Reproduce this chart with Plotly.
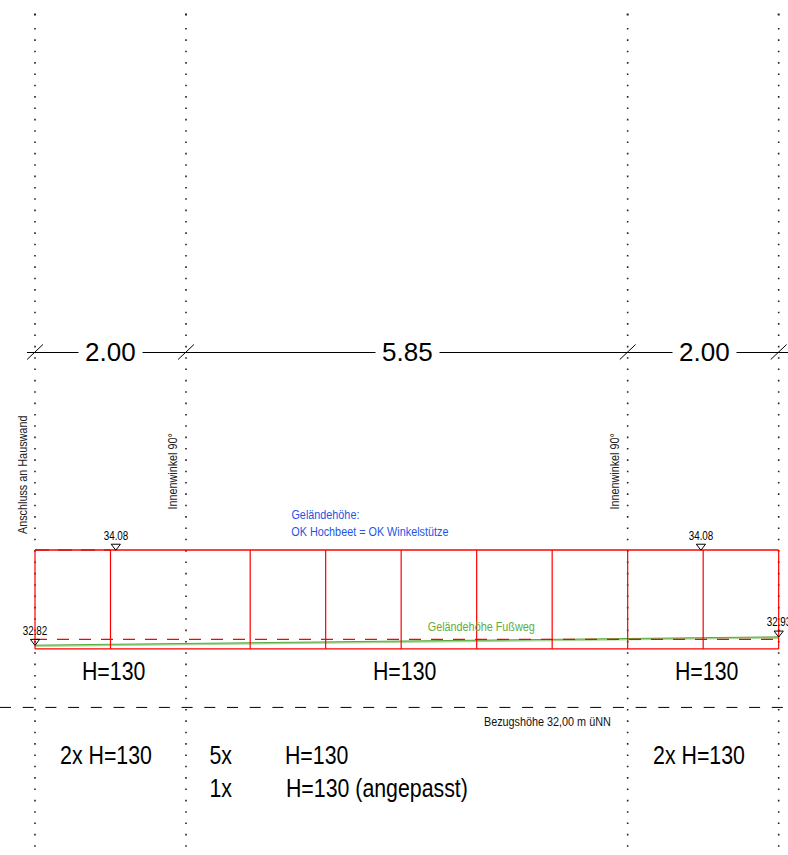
import plotly.graph_objects as go

# --- drawing values, metres and elevations (m uNN) ---
axis_positions = [0.0, 2.0, 7.85, 9.85]
span_labels = ["2.00", "5.85", "2.00"]
panel_edges = [0.0, 1.0, 2.85, 3.85, 4.85, 5.85, 6.85, 7.85, 8.85, 9.85]
top_level = 34.08
bottom_level = 32.77
dashed_level = 32.895
datum_level = 31.995
terrain_x = [0.0, 9.85]
terrain_y = [32.82, 32.93]
spot_x = [1.07, 8.82]
spot_y = [34.08, 34.08]
spot_labels = ["34.08", "34.08"]
H_LABEL = "H=130"
COUNT_LABEL = "2x H=130"

SCALE = 75.5
X0, Y0 = 35, 550
W, H = 788, 855
xr = [(0 - X0) / SCALE, (W - X0) / SCALE]
yr = [top_level - (H - Y0) / SCALE, top_level + Y0 / SCALE]
def px(v): return (v - X0) / SCALE
def py(v): return top_level - (v - Y0) / SCALE

FONT = "Liberation Sans, Arial, sans-serif"
RED = "#ff0000"
fig = go.Figure()

def line(xs, ys, color, width, dash="solid"):
    fig.add_trace(go.Scatter(x=xs, y=ys, mode="lines", hoverinfo="skip", showlegend=False,
                             line=dict(color=color, width=width, dash=dash)))

# dotted axis lines
for a in axis_positions:
    line([a, a], [py(28), py(848)], "#222222", 1.6, "1.6px,9.75px")
    fig.add_trace(go.Scatter(x=[a], y=[py(14.5)], mode="markers", hoverinfo="skip", showlegend=False,
                             marker=dict(symbol="square", size=2, color="#222222")))

# dimension line
line([px(27), px(788)], [py(352.5)] * 2, "#000000", 1)
for a in axis_positions:
    line([a - 0.105, a + 0.105], [py(359.5), py(344.5)], "#000000", 1)

# datum and black dashes
line([px(0), px(788)], [datum_level] * 2, "#000000", 1, "11px,11.7px")
line([0, 1.0], [top_level] * 2, "#000000", 1.2, "14px,9px")

# terrain
line(terrain_x, [v - 0.012 for v in terrain_y], "#a9d495", 1.8)
line(terrain_x, terrain_y, "#4aa02c", 0.9)

# red dashes above the terrain
line([0, panel_edges[-1]], [dashed_level] * 2, RED, 1.2, "12px,10px")

# panels
for e in panel_edges:
    line([e, e], [bottom_level, top_level], RED, 1.2)
line([panel_edges[0], panel_edges[-1]], [top_level] * 2, RED, 1.4)
line([panel_edges[0], panel_edges[-1]], [bottom_level] * 2, RED, 1.4)

# spot markers
fig.add_trace(go.Scatter(
    x=spot_x + [terrain_x[0], terrain_x[1]],
    y=[v + 0.05 for v in spot_y] + [terrain_y[0] + 0.05, terrain_y[1] + 0.05],
    mode="markers", hoverinfo="skip", showlegend=False,
    marker=dict(symbol="triangle-down-open", size=8, color="#000000", line=dict(width=1, color="#000000"))))

def text(x, y, s, size, color="#000000", angle=0, bg=None, pad=0):
    fig.add_annotation(x=x, y=y, text=s, showarrow=False, xanchor="center", yanchor="middle",
                       textangle=angle, bgcolor=bg, borderpad=pad,
                       font=dict(family=FONT, size=size, color=color))

# span labels
for s, c in zip(span_labels, [110.5, 407, 704]):
    text(px(c), py(352), s, 26, bg="#ffffff", pad=6)

# spot labels
text(px(115.5), py(536), spot_labels[0], 12)
text(px(700.5), py(536), spot_labels[1], 12)
text(px(34.5), py(631), f"{terrain_y[0]:.2f}", 12)
text(px(779), py(622), f"{terrain_y[1]:.2f}", 12)

# rotated notes
text(px(22), py(475), "Anschluss an Hauswand", 13.2, angle=-90, color="#222222")
text(px(172.5), py(471.5), "Innenwinkel 90°", 13.2, angle=-90, color="#222222")
text(px(614.5), py(471.5), "Innenwinkel 90°", 13.2, angle=-90, color="#222222")

# notes
text(px(325), py(514), "Geländehöhe:", 13.2, color="#1f55e6")
text(px(370), py(531), "OK Hochbeet = OK Winkelstütze", 13.2, color="#1f55e6")
text(px(481.5), py(626), "Geländehöhe Fußweg", 13.2, color="#5fad44")
text(px(547), py(721), "Bezugshöhe 32,00 m üNN", 13.2, color="#111111")

# type labels
for c in [113, 404, 706]:
    text(px(c), py(671), H_LABEL, 26)
text(px(105.5), py(755), COUNT_LABEL, 26)
text(px(698.5), py(755), COUNT_LABEL, 26)
text(px(220.5), py(755), "5x", 26)
text(px(316.5), py(755), H_LABEL, 26)
text(px(220.5), py(788), "1x", 26)
text(px(376.5), py(788), "H=130 (angepasst)", 26)

fig.update_layout(width=W, height=H, margin=dict(l=0, r=0, t=0, b=0),
                  paper_bgcolor="#ffffff", plot_bgcolor="#ffffff", showlegend=False,
                  xaxis=dict(range=xr, visible=False, fixedrange=True),
                  yaxis=dict(range=yr, visible=False, fixedrange=True))

POST = """
document.documentElement.style.overflow='hidden';
document.body.style.margin='0';
document.querySelectorAll('.annotation-text').forEach(function(t){
  if (/^\\d\\.\\d\\d$/.test(t.textContent)) return;
  var L = t.getComputedTextLength();
  t.setAttribute('textLength', L * 0.82);
  t.setAttribute('lengthAdjust', 'spacingAndGlyphs');
});
"""
fig.write_html("out.html", config={"displayModeBar": False}, post_script=POST)
